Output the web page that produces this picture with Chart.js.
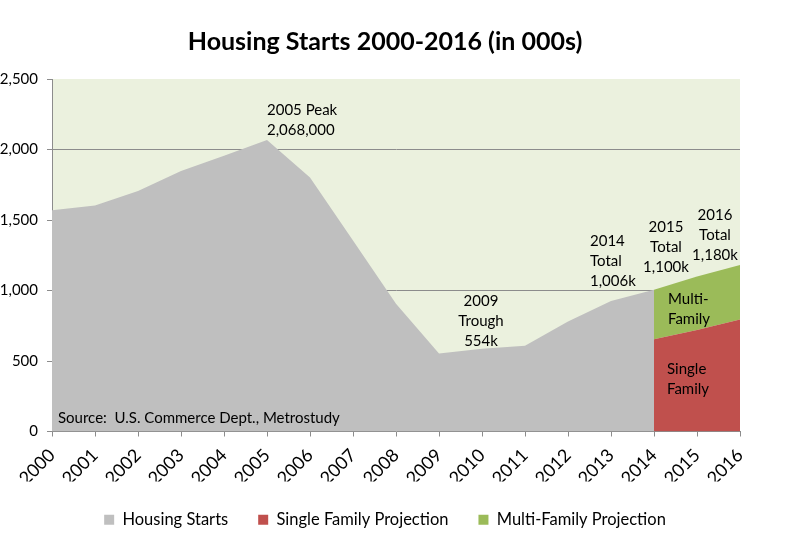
<!DOCTYPE html>
<html>
<head>
<meta charset="utf-8">
<script src="https://cdn.jsdelivr.net/npm/chart.js@4.4.1/dist/chart.umd.min.js"></script>
<style>
  html, body { margin: 0; padding: 0; background: #ffffff; }
  #wrap { width: 800px; height: 545px; position: relative; }
</style>
</head>
<body>
<div id="wrap"><canvas id="c" width="800" height="545"></canvas></div>
<script>
const years = ['2000','2001','2002','2003','2004','2005','2006','2007','2008','2009','2010','2011','2012','2013','2014','2015','2016'];
const housingStarts = [1569, 1603, 1705, 1848, 1956, 2068, 1801, 1355, 906, 554, 587, 609, 781, 925, 1006, null, null];
const singleFamilyProjection = [null, null, null, null, null, null, null, null, null, null, null, null, null, null, 655, 720, 795];
const multiFamilyProjection = [null, null, null, null, null, null, null, null, null, null, null, null, null, null, 351, 380, 385];
const yTicks = [0, 500, 1000, 1500, 2000, 2500];

const FONT = 'Lato, "Open Sans", sans-serif';

// stacked total for the multi-family band (drawn on top of single-family)
const multiFamilyTop = multiFamilyProjection.map((v, i) => v == null ? null : v + singleFamilyProjection[i]);

const annotations = [
  { lines: ['2005 Peak', '2,068,000'], idx: 5, dx: 0, value: 2279, align: 'left' },
  { lines: ['2009', 'Trough', '554k'], idx: 10, dx: -1, value: 926, align: 'center' },
  { lines: ['2014', 'Total', '1,006k'], idx: 13, dx: -21, value: 1353, align: 'left' },
  { lines: ['2015', 'Total', '1,100k'], idx: 14, dx: 12, value: 1446, align: 'center' },
  { lines: ['2016', 'Total', '1,180k'], idx: 15, dx: 18, value: 1531, align: 'center' },
  { lines: ['Multi-', 'Family'], idx: 14, dx: 14, value: 940, align: 'left' },
  { lines: ['Single', 'Family'], idx: 14, dx: 13, value: 442, align: 'left' },
  { lines: ['Source:  U.S. Commerce Dept., Metrostudy'], idx: 0, dx: 6, value: 93, align: 'left' }
];

const bgPlugin = {
  id: 'bg',
  beforeDraw(chart) {
    const { ctx, chartArea: a } = chart;
    ctx.save();
    ctx.fillStyle = '#ffffff';
    ctx.fillRect(0, 0, chart.width, chart.height);
    ctx.fillStyle = '#EBF1DE';
    ctx.fillRect(a.left, a.top, a.right - a.left, a.bottom - a.top);
    ctx.restore();
  }
};

const notePlugin = {
  id: 'notes',
  afterDatasetsDraw(chart) {
    const { ctx, scales: { x, y } } = chart;
    ctx.save();
    ctx.fillStyle = '#000000';
    ctx.font = '15px ' + FONT;
    ctx.textBaseline = 'middle';
    annotations.forEach(n => {
      const px = x.getPixelForValue(n.idx) + n.dx;
      const py = y.getPixelForValue(n.value);
      ctx.textAlign = n.align;
      n.lines.forEach((t, k) => ctx.fillText(t, px, py + k * 20));
    });
    ctx.restore();
  }
};

new Chart(document.getElementById('c'), {
  type: 'line',
  data: {
    labels: years,
    datasets: [
      { label: 'Housing Starts', data: housingStarts, backgroundColor: '#BFBFBF', borderColor: '#BFBFBF', borderWidth: 0, fill: 'origin', pointRadius: 0, tension: 0 },
      { label: 'Single Family Projection', data: singleFamilyProjection, backgroundColor: '#C0504D', borderColor: '#C0504D', borderWidth: 0, fill: 'origin', pointRadius: 0, tension: 0 },
      { label: 'Multi-Family Projection', data: multiFamilyTop, backgroundColor: '#9BBB59', borderColor: '#9BBB59', borderWidth: 0, fill: '-1', pointRadius: 0, tension: 0 }
    ]
  },
  options: {
    responsive: false,
    animation: false,
    layout: { padding: { left: 0, right: 30, top: 0, bottom: 7 } },
    plugins: {
      title: {
        display: true,
        text: 'Housing Starts 2000-2016 (in 000s)',
        color: '#000000',
        font: { family: FONT, size: 25, weight: 'bold' },
        padding: { top: 27, bottom: 22 }
      },
      legend: {
        position: 'bottom',
        labels: {
          color: '#000000',
          font: { family: FONT, size: 16.5 },
          boxWidth: 10,
          boxHeight: 10,
          padding: 30
        }
      },
      tooltip: { enabled: false }
    },
    scales: {
      x: {
        offset: false,
        grid: { drawOnChartArea: false, drawTicks: true, tickLength: 5, color: '#8C8C8C' },
        border: { display: true, color: '#8C8C8C' },
        ticks: { color: '#000000', font: { family: FONT, size: 18 }, minRotation: 45, maxRotation: 45, autoSkip: false, padding: 8 },
        afterFit(s) { s.height = 50; }
      },
      y: {
        min: 0, max: 2500,
        afterBuildTicks(s) { s.ticks = yTicks.map(v => ({ value: v })); },
        grid: {
          tickLength: 5,
          color: c => (c.tick && c.tick.value > 0 && c.tick.value % 1000 === 0) ? '#8C8C8C' : 'rgba(0,0,0,0)',
          tickColor: '#8C8C8C'
        },
        border: { display: true, color: '#8C8C8C' },
        ticks: { color: '#000000', font: { family: FONT, size: 15 }, padding: 9, callback: v => v.toLocaleString('en-US') },
        afterFit(s) { s.width = 52; }
      },
      yRight: {
        type: 'linear',
        position: 'right',
        display: true,
        grid: { display: false },
        border: { display: false },
        ticks: { display: false },
        afterFit(s) { s.width = 30; }
      }
    }
  },
  plugins: [bgPlugin, notePlugin]
});
</script>
</body>
</html>
